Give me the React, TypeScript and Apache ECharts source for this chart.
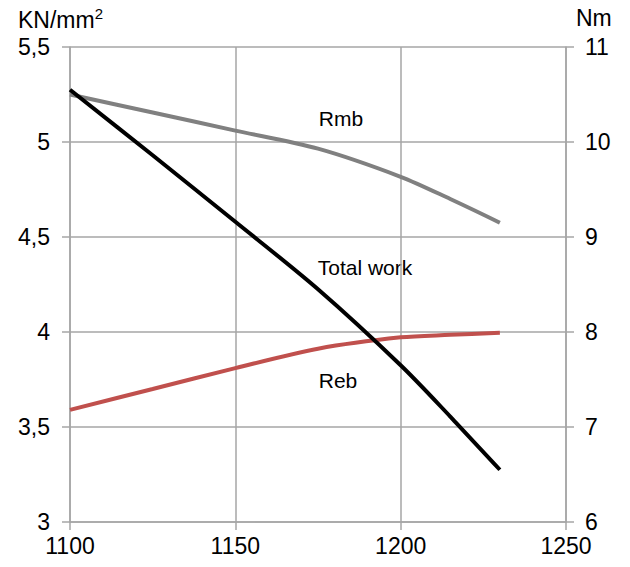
import React, { useEffect, useRef } from "react";
import * as echarts from "echarts";

const temps = [1100, 1125, 1150, 1175, 1200, 1215, 1230];
const rmb = [5.25, 5.155, 5.06, 4.965, 4.817, 4.70, 4.575];
const reb = [3.59, 3.70, 3.81, 3.912, 3.972, 3.985, 3.996];
const totalWork = [10.55, 9.86, 9.16, 8.45, 7.65, 7.11, 6.55];

const leftTicks = { min: 3, max: 5.5, interval: 0.5 };
const rightTicks = { min: 6, max: 11, interval: 1 };
const xTicks = { min: 1100, max: 1250, interval: 50 };

const FONT = "'Liberation Sans', Arial, sans-serif";
const GRID_COLOR = "#a6a6a6";

export default function App() {
  const ref = useRef<HTMLDivElement>(null);
  useEffect(() => {
    if (!ref.current) return;
    const chart = echarts.init(ref.current, null, { renderer: "svg" });
    const axisCommon = {
      axisLine: { show: true, lineStyle: { color: GRID_COLOR, width: 1.5 } },
      axisTick: { show: true, length: 8, lineStyle: { color: GRID_COLOR, width: 1.5 } },
      splitLine: { show: true, lineStyle: { color: GRID_COLOR, width: 1.5 } },
    };
    chart.setOption({
      animation: false,
      grid: { left: 70, right: 64, top: 47, bottom: 45 },
      xAxis: {
        type: "value",
        ...xTicks,
        ...axisCommon,
        axisLabel: {
          fontFamily: FONT,
          fontSize: 23,
          color: "#000",
          margin: 12,
          formatter: (v: number) => String(v),
        },
      },
      yAxis: [
        {
          type: "value",
          ...leftTicks,
          ...axisCommon,
          axisLabel: {
            fontFamily: FONT,
            fontSize: 23,
            color: "#000",
            margin: 20,
            formatter: (v: number) => String(v).replace(".", ","),
          },
        },
        {
          type: "value",
          ...rightTicks,
          ...axisCommon,
          splitLine: { show: false },
          axisLabel: { fontFamily: FONT, fontSize: 23, color: "#000", margin: 19 },
        },
      ],
      series: [
        {
          name: "Rmb",
          type: "line",
          smooth: 0.3,
          showSymbol: false,
          yAxisIndex: 0,
          data: temps.map((t, i) => [t, rmb[i]]),
          lineStyle: { color: "#808080", width: 4 },
        },
        {
          name: "Reb",
          type: "line",
          smooth: 0.3,
          showSymbol: false,
          yAxisIndex: 0,
          data: temps.map((t, i) => [t, reb[i]]),
          lineStyle: { color: "#c0504d", width: 4 },
        },
        {
          name: "Total work",
          type: "line",
          smooth: 0.3,
          showSymbol: false,
          yAxisIndex: 1,
          data: temps.map((t, i) => [t, totalWork[i]]),
          lineStyle: { color: "#000000", width: 4 },
        },
      ],
      graphic: [
        {
          type: "text",
          left: 18,
          top: 6,
          style: {
            text: "{a|KN/mm}{s|2}",
            rich: {
              a: { fontFamily: FONT, fontSize: 23, fill: "#000", verticalAlign: "bottom" },
              s: { fontFamily: FONT, fontSize: 15, fill: "#000", verticalAlign: "top", padding: [0, 0, 10, 0] },
            },
          },
        },
        {
          type: "text",
          left: 576,
          top: 6,
          style: { text: "Nm", fontFamily: FONT, fontSize: 23, fill: "#000" },
        },
        {
          type: "text",
          x: 341,
          y: 118,
          style: { text: "Rmb", fontFamily: FONT, fontSize: 21, fill: "#000", align: "center", verticalAlign: "middle" },
        },
        {
          type: "text",
          x: 365,
          y: 267,
          style: { text: "Total work", fontFamily: FONT, fontSize: 21, fill: "#000", align: "center", verticalAlign: "middle" },
        },
        {
          type: "text",
          x: 338,
          y: 380,
          style: { text: "Reb", fontFamily: FONT, fontSize: 21, fill: "#000", align: "center", verticalAlign: "middle" },
        },
      ],
    });
    return () => chart.dispose();
  }, []);
  return <div ref={ref} style={{ position: "absolute", left: 0, top: 0, width: 630, height: 567 }} />;
}
